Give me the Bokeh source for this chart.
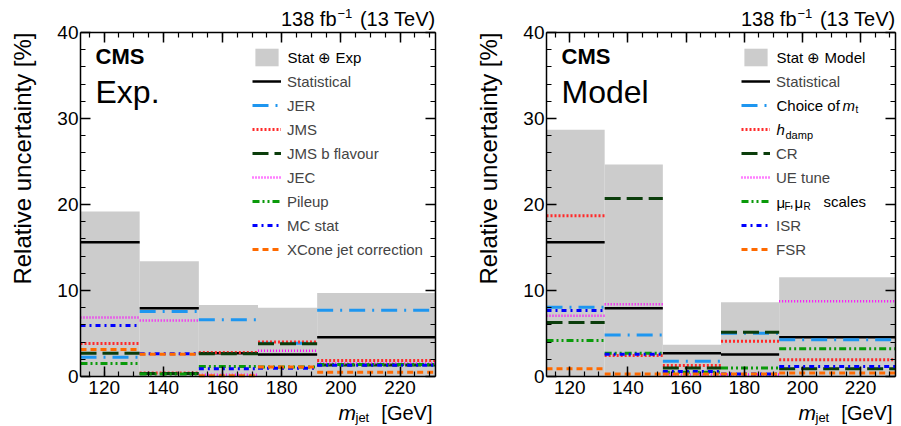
import math
from bokeh.plotting import figure
from bokeh.models import (ColumnDataSource, Legend, LegendItem, Label, LinearAxis,
                          SingleIntervalTicker, Range1d, CustomJSTickFormatter)
from bokeh.layouts import row
from bokeh.embed import file_html
from bokeh.resources import INLINE

FONT = "Liberation Sans"

# ---------------- data ----------------
bin_edges = [112, 132, 152, 172, 192, 232]

statistical = [15.6, 7.95, 2.7, 2.55, 4.55]

# Experimental panel
stat_exp_total = [19.2, 13.4, 8.3, 8.0, 9.7]
jer = [2.25, 7.55, 6.6, 3.87, 7.7]
jms = [3.85, 0.4, 2.8, 4.0, 1.86]
jms_b_flavour = [2.7, 0.35, 2.65, 3.8, 1.35]
jec = [6.85, 6.5, 0.2, 3.0, 1.5]
pileup = [1.5, 0.3, 1.15, 1.1, 1.4]
mc_stat = [5.93, 2.65, 0.9, 0.95, 1.3]
xcone_jet_correction = [3.15, 2.6, 0.1, 1.1, 0.5]

# Model panel
stat_model_total = [28.7, 24.65, 3.68, 8.64, 11.55]
choice_of_mt = [8.06, 4.84, 1.78, 5.03, 4.26]
hdamp = [18.68, 2.44, 1.28, 4.1, 1.94]
cr = [6.28, 20.7, 1.0, 5.15, 0.9]
ue_tune = [7.05, 8.41, 0.23, 0.23, 8.76]
mu_scales = [4.19, 2.7, 0.5, 1.0, 3.22]
isr = [7.67, 2.6, 0.58, 0.3, 1.16]
fsr = [0.89, 0.3, 0.3, 0.3, 0.4]

exp_labels = [" ", "Statistical", "JER", "JMS", "JMS b flavour", "JEC", "Pileup", "MC stat",
              "XCone jet correction"]
# entries with symbols / sub-scripts are typeset separately below (blank here)
model_labels = [" ", "Statistical", " ", " ", "CR", "UE tune", " ", "ISR", "FSR"]

x_range = (112, 232)
y_axis_range = (0, 40)

# ---------------- styles ----------------
styles = [
    dict(color="black", dash="solid", width=2.5),
    dict(color="#1e96f0", dash="16 7 2 7", width=3),
    dict(color="#ff2a2a", dash="2 2", width=3),
    dict(color="#0b3d0b", dash="16 6", width=3),
    dict(color="#ff00ff", dash="1 2", width=2.5),
    dict(color="#0a9a0a", dash="7 3 2 3 2 3", width=3),
    dict(color="#0000ff", dash="5 4 2 4", width=3),
    dict(color="#ff6a00", dash="6 4", width=3),
]

# ---------------- layout constants ----------------
FIG_H = 425
AXIS_TOP = 32            # px from figure top to the y=40 axis line
AXIS_PX = 344            # pixel height of the 0..40 axis
PX_PER_UNIT = AXIS_PX / (y_axis_range[1] - y_axis_range[0])
FRAME_PX = FIG_H         # frame covers the whole height; axes are placed inside it
Y_MAX = y_axis_range[1] + AXIS_TOP / PX_PER_UNIT
Y_MIN = Y_MAX - FRAME_PX / PX_PER_UNIT

LEG_ITEM = 22
LEG_SPACING = 2
LEG_TOP = 14             # legend top below the y=40 line
GLYPH_W = 29
STANDOFF = 6


def add_text(p, text, xo, yo, size, x=None, y=None, style="normal", align="left",
             baseline="middle", angle=0.0, place="center"):
    lab = Label(x=x_range[0] if x is None else x, y=y_axis_range[1] if y is None else y,
                x_offset=xo, y_offset=yo, text=text, text_font=FONT,
                text_font_size=f"{size}px", text_font_style=style,
                text_align=align, text_baseline=baseline, angle=angle,
                text_color="black")
    if place == "center":
        p.add_layout(lab)
    else:
        p.add_layout(lab, place)


def style_axis(ax):
    ax.major_tick_in = 10
    ax.major_tick_out = 0
    ax.minor_tick_in = 5
    ax.minor_tick_out = 0
    ax.axis_line_width = 1.5
    ax.axis_line_color = "black"
    ax.major_tick_line_width = 1.5
    ax.minor_tick_line_width = 1.2
    ax.major_label_text_font = FONT
    ax.major_label_text_font_size = "19px"
    ax.major_label_text_color = "black"


def yc(i):
    return -(LEG_TOP + LEG_ITEM / 2 + (LEG_ITEM + LEG_SPACING) * i)


def make_panel(width, border_left, border_right, total, total_label, tag, series, labels,
               legend_vx):
    p = figure(width=width, height=FIG_H, x_range=Range1d(*x_range),
               y_range=Range1d(Y_MIN, Y_MAX), title=None,
               output_backend="svg", toolbar_location=None,
               min_border_left=border_left, min_border_right=border_right,
               min_border_top=0, min_border_bottom=0)
    p.xgrid.visible = False
    p.ygrid.visible = False
    p.outline_line_color = None
    p.background_fill_color = "white"
    p.border_fill_color = "white"

    xax = p.xaxis[0]
    yax = p.yaxis[0]
    xax.ticker = SingleIntervalTicker(interval=20, num_minor_ticks=4)
    yax.ticker = SingleIntervalTicker(interval=10, num_minor_ticks=5)
    style_axis(xax)
    style_axis(yax)
    xax.fixed_location = y_axis_range[0]
    yax.bounds = y_axis_range
    yax.major_label_standoff = 2
    xax.major_label_standoff = 4

    blank = CustomJSTickFormatter(code="return ''")
    rax = LinearAxis(ticker=SingleIntervalTicker(interval=10, num_minor_ticks=5),
                     formatter=blank, bounds=y_axis_range, major_label_standoff=0)
    tax = LinearAxis(ticker=SingleIntervalTicker(interval=20, num_minor_ticks=4),
                     formatter=blank, major_label_standoff=0,
                     fixed_location=y_axis_range[1])
    for ax, loc in ((rax, "right"), (tax, "above")):
        style_axis(ax)
        ax.major_label_text_font_size = "1px"
        p.add_layout(ax, loc)

    src = ColumnDataSource(dict(left=bin_edges[:-1], right=bin_edges[1:], top=total))
    box = p.quad(left="left", right="right", bottom=0, top="top", source=src,
                 fill_color="#cccccc", line_color=None)

    items = [LegendItem(label=labels[0], renderers=[box])]
    for vals, st, lab in zip(series, styles, labels[1:]):
        s = ColumnDataSource(dict(x0=bin_edges[:-1], x1=bin_edges[1:], y=vals))
        r = p.segment(x0="x0", x1="x1", y0="y", y1="y", source=s, line_color=st["color"],
                      line_dash=st["dash"], line_width=st["width"])
        items.append(LegendItem(label=lab, renderers=[r]))

    n = len(items)
    leg_h = n * LEG_ITEM + (n - 1) * LEG_SPACING
    leg = Legend(items=items,
                 location=(legend_vx, FRAME_PX - AXIS_TOP - LEG_TOP - leg_h),
                 glyph_width=GLYPH_W, glyph_height=LEG_ITEM, label_height=LEG_ITEM,
                 spacing=LEG_SPACING, padding=0, margin=0, label_standoff=STANDOFF,
                 border_line_color=None, background_fill_alpha=0,
                 label_text_font=FONT, label_text_font_size="15px")
    p.add_layout(leg)

    lx = legend_vx + GLYPH_W + STANDOFF
    add_text(p, total_label, lx, yc(0), 15)

    # texts inside the frame
    add_text(p, "CMS", 15, -23.5, 22, style="bold")
    add_text(p, tag, 15, -59, 32)
    # x-axis title (below the y=0 axis line)
    add_text(p, "m", -97, -36, 21, x=x_range[1], y=0, style="italic")
    add_text(p, "jet", -80, -41, 13, x=x_range[1], y=0)
    add_text(p, "[GeV]", -3, -36, 20, x=x_range[1], y=0, align="right")
    # luminosity label above the frame
    add_text(p, "(13 TeV)", 0, 14, 20, x=x_range[1], align="right")
    add_text(p, "\u22121", -98, 19, 13, x=x_range[1], align="left")
    add_text(p, "138 fb", -99, 14, 20, x=x_range[1], align="right")
    # y-axis title (side panel)
    add_text(p, "Relative uncertainty [%]", -58, 0, 24, align="right", angle=math.pi / 2,
             place="left")
    return p, lx


p1, lx1 = make_panel(446, 80, 11, stat_exp_total, "Stat \u2295 Exp", "Exp.",
                     [statistical, jer, jms, jms_b_flavour, jec, pileup, mc_stat,
                      xcone_jet_correction],
                     exp_labels, 172)

p2, LX = make_panel(454, 100, 5, stat_model_total, "Stat \u2295 Model", "Model",
                    [statistical, choice_of_mt, hdamp, cr, ue_tune, mu_scales, isr, fsr],
                    model_labels, 195)

# legend entries with sub-scripts in the model panel
add_text(p2, "Choice of", LX, yc(2), 15)
add_text(p2, "m", LX + 66, yc(2), 15, style="italic")
add_text(p2, "t", LX + 79, yc(2) - 4, 10)
add_text(p2, "h", LX, yc(3), 15, style="italic")
add_text(p2, "damp", LX + 9, yc(3) - 5, 11)
add_text(p2, "\u03bc", LX, yc(6) - 1, 15)
add_text(p2, "F", LX + 8, yc(6) - 5, 10)
add_text(p2, ",", LX + 13, yc(6), 15)
add_text(p2, "\u03bc", LX + 18, yc(6) - 1, 15)
add_text(p2, "R", LX + 27, yc(6) - 5, 10)
add_text(p2, "scales", LX + 47, yc(6), 15)

layout = row(p1, p2)
open("out.html", "w").write(file_html(layout, INLINE))
